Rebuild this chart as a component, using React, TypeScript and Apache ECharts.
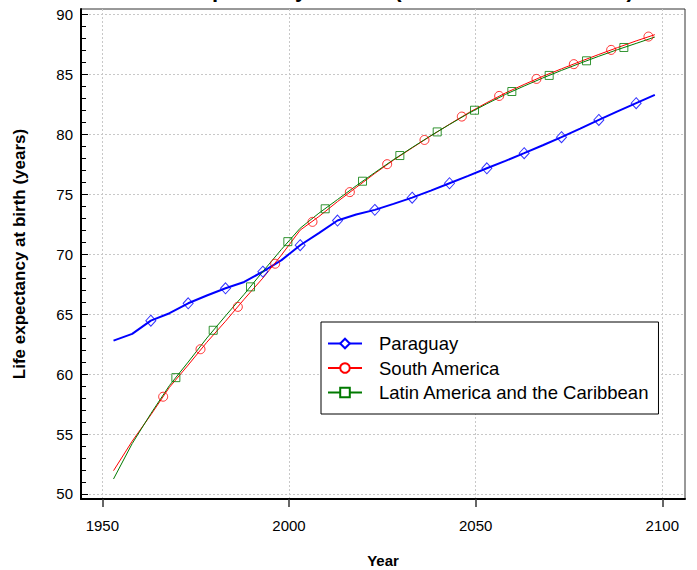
import React, { useEffect, useRef } from "react";
import * as echarts from "echarts";

const TITLE = "Life expectancy at birth (both sexes combined)";
const X_NAME = "Year";
const Y_NAME = "Life expectancy at birth (years)";

const seriesNames = ["Paraguay", "South America", "Latin America and the Caribbean"];

const years = [
  1953, 1958, 1963, 1968, 1973, 1978, 1983, 1988, 1993, 1998,
  2003, 2008, 2013, 2018, 2023, 2028, 2033, 2038, 2043, 2048,
  2053, 2058, 2063, 2068, 2073, 2078, 2083, 2088, 2093, 2098,
];

const paraguay = [
  62.79, 63.35, 64.45, 65.07, 65.9, 66.55, 67.15, 67.68, 68.54, 69.5,
  70.74, 71.75, 72.8, 73.3, 73.69, 74.19, 74.71, 75.3, 75.91, 76.52,
  77.16, 77.78, 78.42, 79.08, 79.75, 80.46, 81.19, 81.9, 82.59, 83.28,
];

const southAmerica = [
  51.94, 54.4, 56.6, 58.9, 60.75, 62.65, 64.4, 66.24, 68.0, 69.93,
  72.0, 73.13, 74.38, 75.56, 76.73, 77.84, 78.86, 79.86, 80.83, 81.77,
  82.63, 83.44, 84.15, 84.83, 85.45, 86.06, 86.65, 87.22, 87.78, 88.3,
];

const latinAmerica = [
  51.25, 54.2, 56.7, 59.05, 61.0, 63.0, 64.85, 66.65, 68.55, 70.4,
  72.16, 73.41, 74.55, 75.7, 76.8, 77.88, 78.89, 79.88, 80.81, 81.72,
  82.54, 83.32, 84.02, 84.69, 85.32, 85.92, 86.5, 87.05, 87.57, 88.1,
];

// marker positions (as drawn in the reference)
const paraguayMarkerYears = [1963, 1973, 1983, 1993, 2003, 2013, 2023, 2033, 2043, 2053, 2063, 2073, 2083, 2093];
const southMarkerYears = [1966.3, 1976.3, 1986.3, 1996.3, 2006.3, 2016.3, 2026.3, 2036.3, 2046.3, 2056.3, 2066.3, 2076.3, 2086.3, 2096.3];
const southMarkerValues = [58.11, 62.07, 65.6, 69.2, 72.69, 75.17, 77.5, 79.52, 81.47, 83.19, 84.61, 85.84, 87.03, 88.14];
const latinMarkerYears = [1969.7, 1979.7, 1989.7, 1999.7, 2009.7, 2019.7, 2029.7, 2039.7, 2049.7, 2059.7, 2069.7, 2079.7, 2089.7];
const latinMarkerValues = [59.7, 63.65, 67.27, 71.04, 73.78, 76.08, 78.22, 80.19, 82.0, 83.56, 84.9, 86.12, 87.23];

const xTicks = [1950, 2000, 2050, 2100];
const yTicks = [50, 55, 60, 65, 70, 75, 80, 85, 90];
const yMinorTicks = [
  50, 51, 52, 53, 54, 55, 56, 57, 58, 59, 60, 61, 62, 63, 64, 65, 66, 67, 68, 69, 70,
  71, 72, 73, 74, 75, 76, 77, 78, 79, 80, 81, 82, 83, 84, 85, 86, 87, 88, 89, 90,
];

const X_MIN = 1944.29;
const X_MAX = 2106.08;
const Y_MIN = 49.58;
const Y_MAX = 90.44;

const BLUE = "#0000ff";
const RED = "#ff0000";
const GREEN = "#007a00";
const FONT = "Liberation Sans, Arial, sans-serif";

export default function App() {
  const ref = useRef<HTMLDivElement>(null);

  useEffect(() => {
    document.body.style.margin = "0";
    const chart = echarts.init(ref.current!, null, { renderer: "svg" });

    const pair = (xs: number[], ys: number[]) => xs.map((x, i) => [x, ys[i]]);
    const paraguayMarkers = paraguayMarkerYears.map((y) => [y, paraguay[years.indexOf(y)]]);

    const option: any = {
      animation: false,
      backgroundColor: "#fff",
      title: {
        text: TITLE,
        left: 383,
        textAlign: "center",
        top: -27,
        textStyle: { fontSize: 22, fontWeight: "bold", fontFamily: FONT, color: "#000" },
      },
      grid: {
        left: 81,
        right: 12,
        top: 9,
        bottom: 71,
        outerBoundsMode: "none",
        containLabel: false,
        show: true,
        borderColor: "#333",
        borderWidth: 1,
        backgroundColor: "transparent",
      },
      legend: {
        orient: "vertical",
        left: 321,
        top: 322,
        data: seriesNames,
        backgroundColor: "#fff",
        borderColor: "#000",
        borderWidth: 1,
        borderRadius: 0,
        padding: [12, 9, 12, 6],
        itemWidth: 34,
        itemHeight: 12,
        itemGap: 5.5,
        textStyle: { fontSize: 18.5, fontFamily: FONT, color: "#000", padding: [0, 0, 0, 12] },
        selectedMode: false,
      },
      xAxis: {
        type: "value",
        min: X_MIN,
        max: X_MAX,
        name: X_NAME,
        nameLocation: "middle",
        nameGap: 54,
        nameTextStyle: { fontSize: 15, fontWeight: "bold", fontFamily: FONT, color: "#000" },
        axisLine: { show: true, onZero: false, lineStyle: { color: "#000", width: 2 } },
        axisTick: { show: true, inside: false, length: 8, customValues: xTicks, lineStyle: { color: "#333", width: 1.5 } },
        axisLabel: {
          show: true,
          customValues: xTicks,
          formatter: (v: number) => String(Math.round(v)),
          margin: 19,
          fontSize: 15,
          fontFamily: FONT,
          color: "#000",
        },
        splitLine: { show: true, lineStyle: { color: "#c8c8c8", type: [2, 2], width: 1 } },
        minorTick: { show: false },
      },
      yAxis: [
        {
          type: "value",
          min: Y_MIN,
          max: Y_MAX,
          name: Y_NAME,
          nameLocation: "middle",
          nameGap: 53,
          nameTextStyle: { fontSize: 17, fontWeight: "bold", fontFamily: FONT, color: "#000" },
          axisLine: { show: true, onZero: false, lineStyle: { color: "#000", width: 2 } },
          axisTick: { show: true, inside: true, length: 7, customValues: yTicks, lineStyle: { color: "#000", width: 1 } },
          axisLabel: {
            show: true,
            customValues: yTicks,
            formatter: (v: number) => String(Math.round(v)),
            margin: 8,
            fontSize: 15,
            fontFamily: FONT,
            color: "#000",
          },
          splitLine: { show: true, lineStyle: { color: "#c8c8c8", type: [2, 2], width: 1 } },
        },
        {
          type: "value",
          min: Y_MIN,
          max: Y_MAX,
          position: "left",
          axisLine: { show: false },
          axisTick: { show: true, inside: true, length: 5, customValues: yMinorTicks, lineStyle: { color: "#000", width: 1 } },
          axisLabel: { show: false },
          splitLine: { show: false },
        },
      ],
      series: [
        {
          name: seriesNames[0],
          type: "line",
          data: pair(years, paraguay),
          symbol: "emptyDiamond",
          showSymbol: false,
          lineStyle: { color: BLUE, width: 2 },
          itemStyle: { color: BLUE },
          silent: true,
          z: 3,
        },
        {
          name: seriesNames[1],
          type: "line",
          data: pair(years, southAmerica),
          symbol: "emptyCircle",
          showSymbol: false,
          lineStyle: { color: RED, width: 1 },
          itemStyle: { color: RED },
          silent: true,
          z: 3,
        },
        {
          name: seriesNames[2],
          type: "line",
          data: pair(years, latinAmerica),
          symbol: "emptyRect",
          showSymbol: false,
          lineStyle: { color: GREEN, width: 1 },
          itemStyle: { color: GREEN },
          silent: true,
          z: 3,
        },
        {
          type: "scatter",
          data: paraguayMarkers,
          symbol: "diamond",
          symbolSize: [10, 11],
          itemStyle: { color: "transparent", borderColor: BLUE, borderWidth: 1 },
          silent: true,
          z: 4,
        },
        {
          type: "scatter",
          data: pair(southMarkerYears, southMarkerValues),
          symbol: "circle",
          symbolSize: 9,
          itemStyle: { color: "transparent", borderColor: RED, borderWidth: 1 },
          silent: true,
          z: 4,
        },
        {
          type: "scatter",
          data: pair(latinMarkerYears, latinMarkerValues),
          symbol: "rect",
          symbolSize: 8,
          itemStyle: { color: "transparent", borderColor: GREEN, borderWidth: 1 },
          silent: true,
          z: 4,
        },
      ],
    };

    chart.setOption(option);
    return () => chart.dispose();
  }, []);

  return <div ref={ref} style={{ position: "absolute", left: 0, top: 0, width: 697, height: 570 }} />;
}
